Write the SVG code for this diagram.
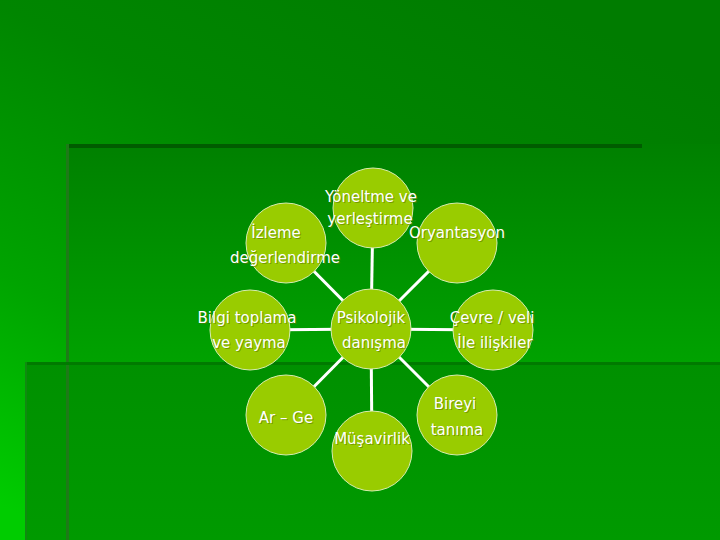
<svg xmlns="http://www.w3.org/2000/svg" width="720" height="540" viewBox="0 0 720 540">
<defs>
<linearGradient id="bg" x1="0.75" y1="0" x2="0.1" y2="1">
<stop offset="0" stop-color="#007c00"/>
<stop offset="0.35" stop-color="#008600"/>
<stop offset="0.7" stop-color="#00a400"/>
<stop offset="1" stop-color="#00cc00"/>
</linearGradient>
<linearGradient id="up" x1="0" y1="0" x2="0" y2="1">
<stop offset="0" stop-color="#008000"/>
<stop offset="1" stop-color="#00a200"/>
</linearGradient>
<linearGradient id="lo" x1="0" y1="0" x2="0" y2="1">
<stop offset="0" stop-color="#009000"/>
<stop offset="1" stop-color="#009a00"/>
</linearGradient>
<style>
.n{fill:#99cc00;stroke:#d8ecb0;stroke-width:1}
.t{font-family:"DejaVu Sans",Verdana,sans-serif;font-size:15px;fill:#ffffff;text-anchor:middle}
.s{font-family:"DejaVu Sans",Verdana,sans-serif;font-size:15px;fill:#5c7a00;fill-opacity:0.6;text-anchor:middle}
.c{stroke:#ffffff;stroke-width:3;fill:none}
</style>
</defs>
<rect x="0" y="0" width="720" height="540" fill="url(#bg)"/>
<rect x="67" y="144" width="653" height="218" fill="url(#up)"/>
<rect x="25" y="362" width="695" height="178" fill="url(#lo)"/>
<rect x="67" y="144" width="575" height="4" fill="#005c00"/>
<rect x="66" y="144" width="3" height="396" fill="#1e7a18"/>
<rect x="25" y="362" width="695" height="3" fill="#007a00"/>
<rect x="25" y="362" width="2" height="178" fill="#108a10"/>
<g id="connectors">
<line class="c" x1="371" y1="329" x2="373" y2="208"/>
<line class="c" x1="371" y1="329" x2="286" y2="243"/>
<line class="c" x1="371" y1="329" x2="457" y2="243"/>
<line class="c" x1="371" y1="329" x2="250" y2="330"/>
<line class="c" x1="371" y1="329" x2="493" y2="330"/>
<line class="c" x1="371" y1="329" x2="286" y2="415"/>
<line class="c" x1="371" y1="329" x2="372" y2="451"/>
<line class="c" x1="371" y1="329" x2="457" y2="415"/>
</g>
<g id="yoneltme"><circle class="n" cx="373" cy="208" r="40"/>
<text class="s" x="372" y="203">Yöneltme ve</text><text class="t" x="371" y="202">Yöneltme ve</text>
<text class="s" x="371" y="225">yerleştirme</text><text class="t" x="370" y="224">yerleştirme</text></g>
<g id="izleme"><circle class="n" cx="286" cy="243" r="40"/>
<text class="s" x="277" y="239">İzleme</text><text class="t" x="276" y="238">İzleme</text>
<text class="s" x="286" y="264">değerlendirme</text><text class="t" x="285" y="263">değerlendirme</text></g>
<g id="oryantasyon"><circle class="n" cx="457" cy="243" r="40"/>
<text class="s" x="458" y="239">Oryantasyon</text><text class="t" x="457" y="238">Oryantasyon</text></g>
<g id="bilgi"><circle class="n" cx="250" cy="330" r="40"/>
<text class="s" x="248" y="324">Bilgi toplama</text><text class="t" x="247" y="323">Bilgi toplama</text>
<text class="s" x="250" y="349">ve yayma</text><text class="t" x="249" y="348">ve yayma</text></g>
<g id="psikolojik"><circle class="n" cx="371" cy="329" r="40"/>
<text class="s" x="372" y="324">Psikolojik</text><text class="t" x="371" y="323">Psikolojik</text>
<text class="s" x="375" y="349">danışma</text><text class="t" x="374" y="348">danışma</text></g>
<g id="cevre"><circle class="n" cx="493" cy="330" r="40"/>
<text class="s" x="493" y="324">Çevre / veli</text><text class="t" x="492" y="323">Çevre / veli</text>
<text class="s" x="496" y="349">İle ilişkiler</text><text class="t" x="495" y="348">İle ilişkiler</text></g>
<g id="arge"><circle class="n" cx="286" cy="415" r="40"/>
<text class="s" x="287" y="424">Ar – Ge</text><text class="t" x="286" y="423">Ar – Ge</text></g>
<g id="musavirlik"><circle class="n" cx="372" cy="451" r="40"/>
<text class="s" x="373" y="445">Müşavirlik</text><text class="t" x="372" y="444">Müşavirlik</text></g>
<g id="bireyi"><circle class="n" cx="457" cy="415" r="40"/>
<text class="s" x="456" y="410">Bireyi</text><text class="t" x="455" y="409">Bireyi</text>
<text class="s" x="458" y="436">tanıma</text><text class="t" x="457" y="435">tanıma</text></g>
</svg>
